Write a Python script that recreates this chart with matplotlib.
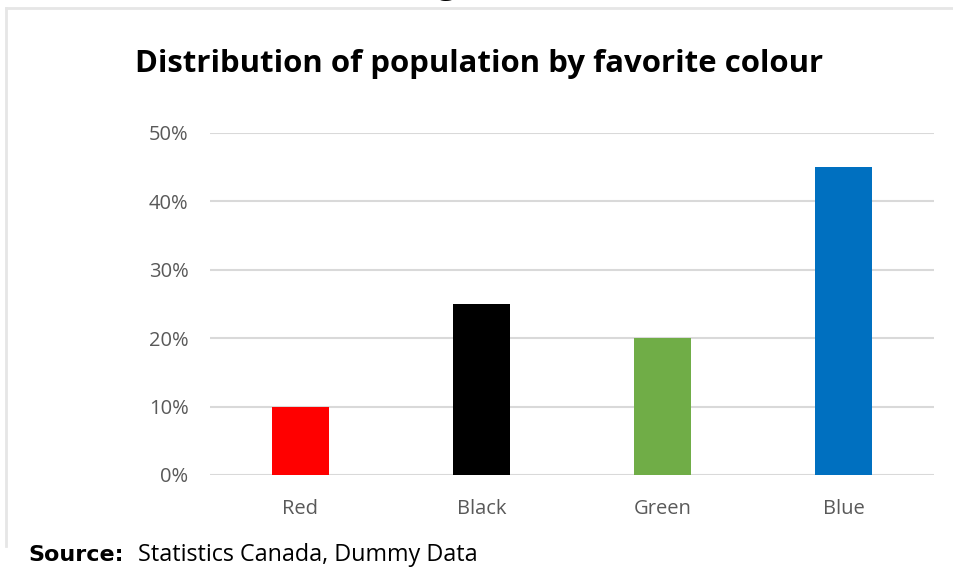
import matplotlib.pyplot as plt
from matplotlib.lines import Line2D
from matplotlib.ticker import PercentFormatter

colours = ["Red", "Black", "Green", "Blue"]
shares = [0.10, 0.25, 0.20, 0.45]
bar_colors = ["#FF0000", "#000000", "#70AD47", "#0070C0"]
y_ticks = [0.0, 0.1, 0.2, 0.3, 0.4, 0.5]

narrow = ["Open Sans", "DejaVu Sans"]

W, H = 954, 571
fig = plt.figure(figsize=(W / 100, H / 100), dpi=100)
ax = fig.add_axes([210 / W, 1 - 475 / H, 724 / W, 342 / H])

x = range(len(colours))
ax.bar(x, shares, width=0.315, color=bar_colors, zorder=3)
ax.set_xlim(-0.5, len(colours) - 0.5)
ax.set_ylim(0, 0.5)
ax.set_yticks(y_ticks)
ax.yaxis.set_major_formatter(PercentFormatter(1.0, decimals=0))
ax.set_xticks(list(x))
ax.set_xticklabels(colours)
ax.grid(axis="y", color="#D9D9D9", linewidth=1.5, zorder=0)
ax.set_axisbelow(True)
for s in ax.spines.values():
    s.set_visible(False)
ax.tick_params(length=0, labelsize=14.5, colors="#595959")
ax.tick_params(axis="x", pad=17.5)
ax.tick_params(axis="y", pad=15.5)
for lab in ax.get_xticklabels() + ax.get_yticklabels():
    lab.set_family(narrow)

fig.text(479 / W, 1 - 64 / H, "Distribution of population by favorite colour",
         ha="center", va="center", fontsize=22.4, fontweight="bold", family=narrow)

# tail of the heading above, cut off by the top edge
fig.text(447 / W, 1 + 8 / H, "g", ha="center", va="baseline",
         fontsize=26, fontweight="bold", family=narrow)

# frame around the chart
fig.add_artist(Line2D([6 / W, 1], [1 - 8 / H, 1 - 8 / H], color="#E6E6E6", lw=2))
fig.add_artist(Line2D([6 / W, 6 / W], [1 - 8 / H, 1 - 546 / H], color="#E6E6E6", lw=2))

fig.text(28 / W, 1 - 555 / H, "Source:", ha="left", va="center",
         fontsize=16, fontweight="bold", family="DejaVu Sans")
fig.text(138 / W, 1 - 555 / H, "Statistics Canada, Dummy Data", ha="left",
         va="center", fontsize=16.8, family=narrow)

fig.savefig("out.png", dpi=100)
